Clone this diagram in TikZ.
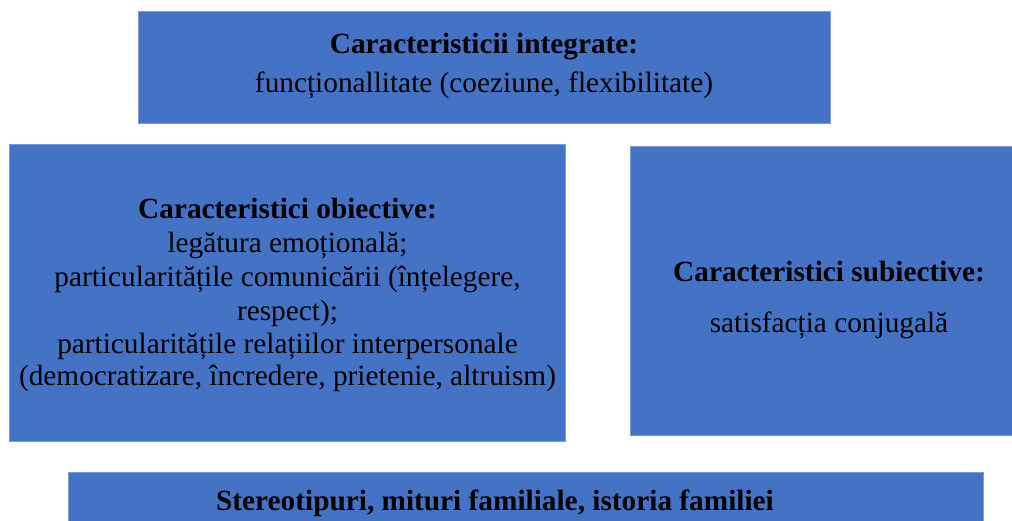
\documentclass[tikz,border=0pt]{standalone}
\usepackage{fontspec}
\newfontfamily\tnr{Liberation Serif}
\definecolor{boxblue}{HTML}{4472C4}
\definecolor{boxedge}{HTML}{7D9BD6}
\begin{document}
\begin{tikzpicture}[x=1pt,y=-1pt,
  panel/.style={fill=boxblue,draw=boxedge,line width=0.8pt},
  txt/.style={anchor=base,inner sep=0pt,font=\fontsize{29.3}{33}\selectfont\tnr},
  ttl/.style={anchor=base,inner sep=0pt,font=\fontsize{29.3}{33}\selectfont\tnr\bfseries}]
\useasboundingbox (0,0) rectangle (1012,521);
\begin{scope}
\clip (0,0) rectangle (1012,521);
\draw[panel] (138.5,11.5) rectangle (830,123) coordinate (topbox);
\draw[panel] (9.5,144.5) rectangle (565,441) coordinate (leftbox);
\draw[panel] (630,146) rectangle (1030,435) coordinate (rightbox);
\draw[panel] (68,472) rectangle (983,540) coordinate (bottombox);
\end{scope}
\node[txt] (t2) at (484,93) {funcționallitate (coeziune, flexibilitate)};
\node[txt] (l2) at (287.5,253) {legătura emoțională;};
\node[txt] (l3) at (287.5,287) {particularitățile comunicării (înțelegere,};
\node[txt] (l4) at (287.5,320) {respect);};
\node[txt] (l5) at (287.5,353) {particularitățile relațiilor interpersonale};
\node[txt] (l6) at (287.5,385) {(democratizare, încredere, prietenie, altruism)};
\node[txt] (r2) at (829,332) {satisfacția conjugală};
\node[ttl] (t1) at (484,54) {Caracteristicii integrate:};
\node[ttl] (l1) at (287.5,219) {Caracteristici obiective:};
\node[ttl] (r1) at (829,282) {Caracteristici subiective:};
\node[ttl] (b1) at (495,510) {Stereotipuri, mituri familiale, istoria familiei};
\end{tikzpicture}
\end{document}
